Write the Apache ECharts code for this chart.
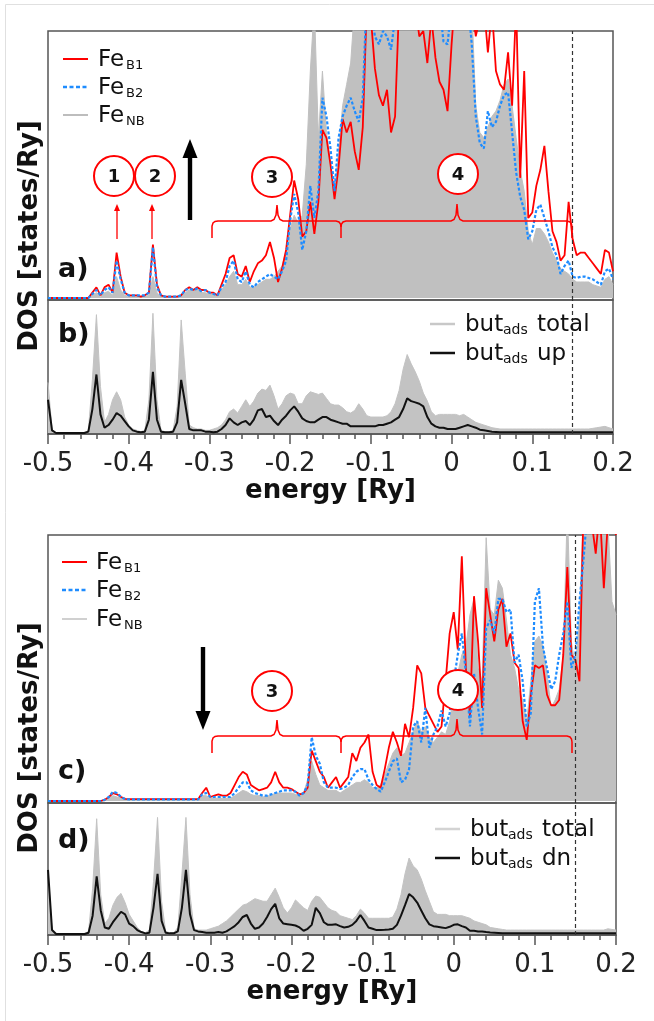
<!DOCTYPE html>
<html><head><meta charset="utf-8">
<script src="https://cdn.jsdelivr.net/npm/echarts@6/dist/echarts.min.js"></script>
<style>html,body{margin:0;padding:0;background:#fff}#c{width:654px;height:1021px}</style>
</head><body><div id="c"></div>
<script>
// ---- energy grid (Ry) ----
const energy = [
-0.5,-0.495,-0.49,-0.485,-0.48,-0.475,-0.47,-0.465,-0.46,-0.455,
-0.45,-0.445,-0.44,-0.435,-0.43,-0.425,-0.42,-0.415,-0.41,-0.405,
-0.4,-0.395,-0.39,-0.385,-0.38,-0.375,-0.37,-0.365,-0.36,-0.355,
-0.35,-0.345,-0.34,-0.335,-0.33,-0.325,-0.32,-0.315,-0.31,-0.305,
-0.3,-0.295,-0.29,-0.285,-0.28,-0.275,-0.27,-0.265,-0.26,-0.255,
-0.25,-0.245,-0.24,-0.235,-0.23,-0.225,-0.22,-0.215,-0.21,-0.205,
-0.2,-0.195,-0.19,-0.185,-0.18,-0.175,-0.17,-0.165,-0.16,-0.155,
-0.15,-0.145,-0.14,-0.135,-0.13,-0.125,-0.12,-0.115,-0.11,-0.105,
-0.1,-0.095,-0.09,-0.085,-0.08,-0.075,-0.07,-0.065,-0.06,-0.055,
-0.05,-0.045,-0.04,-0.035,-0.03,-0.025,-0.02,-0.015,-0.01,-0.005,
0,0.005,0.01,0.015,0.02,0.025,0.03,0.035,0.04,0.045,
0.05,0.055,0.06,0.065,0.07,0.075,0.08,0.085,0.09,0.095,
0.1,0.105,0.11,0.115,0.12,0.125,0.13,0.135,0.14,0.145,
0.15,0.155,0.16,0.165,0.17,0.175,0.18,0.185,0.19,0.195,
0.2];

// ---- spin up: Fe DOS (panel a) ----
const upB1 = [
0,0,0,0,0,0,0,0,0,0,
0,2,4,1,4,5,2,17,8,2,
1,1,1,0.5,1,2,20,5,1,0.5,
0.5,0.5,0.5,1,3,4,3,4,3,3,
2,2,1,5,9,15,16,9,8,12,
6,10,13,14,16,21,15,6,11,18,
31,44,37,23,25,36,24,36,63,60,
50,37,49,67,62,66,55,48,64,110,
105,86,76,72,78,62,68,110,120,115,
108,110,98,100,88,105,90,81,78,70,
95,115,120,118,115,110,98,105,110,92,
108,85,80,78,92,72,110,45,85,30,
32,42,48,57,40,25,21,14,16,36,
22,16,17,17,15,13,11,9,18,17,
10];
const upB2 = [
0,0,0,0,0,0,0,0,0,0,
0,1.5,3,1,3,4,2,14,7,2,
1,1,1,1,1,2,19,4,1,0.5,
0.5,0.5,0.5,1,3,3.5,3,3.5,2.5,3,
2,1.5,1,4,6,12,14,7,6,10,
5,4,6,7,8,9,8,7,10,14,
29,39,32,18,25,42,30,40,75,68,
56,40,60,68,72,75,70,66,75,115,
110,98,95,100,98,93,105,120,115,118,
120,115,110,112,105,110,115,110,96,95,
110,118,120,115,112,95,68,58,56,70,
64,66,72,76,77,62,47,38,33,22,
25,33,35,30,25,19,16,9,12,14,
8,7.5,8,8,7.5,7,6,5,10,11,
7];
const upNB = [
0,0,0,0,0,0,0,0,0,0,
0,1,2,0.5,2,2.5,1,8,3,1,
0.5,0.5,0.5,0.5,0.5,1,8,2,0.5,0.5,
0.5,0.5,0.5,1,2,3,2.5,4,2,2,
1.5,1.5,1,3,5,8,10,5,5,7,
4,4,5,6,7,7,8,10,12,18,
26,31,28,31,50,85,110,60,85,62,
50,40,55,72,80,88,110,120,120,120,
120,120,120,120,120,120,120,120,120,120,
120,120,120,120,120,120,120,120,120,120,
120,120,120,120,120,110,72,62,60,64,
68,70,74,80,82,72,60,48,40,25,
20,26,26,24,21,17,14,11,10,9,
7,6,6,6,6,5,4.5,4,7,8,
5];
// ---- spin up: butadiene (panel b) ----
const upButTotal = [
38,3,0,0,0,0,0,0,0,0,
2,40,89,35,8,14,25,31,25,12,
6,3,2,1,2,25,90,25,2,1,
1,2,20,85,45,6,4,3,3,2,
2,3,4,6,10,16,18,15,20,25,
20,24,30,33,32,36,28,18,22,28,
30,29,22,22,28,31,30,29,30,26,
22,21,21,19,16,15,17,22,18,13,
12,12,12,12,13,16,22,32,48,59,
52,46,39,30,24,16,13,14,14,14,
14,14,13,14,12,10,8,7,6,5,
4,3.5,3,3,3,3,3,3,3,3,
3,3,3,3,3,3,3,3,3,3,
3,3,3,3,3,3.5,4,4.5,5,4,
3];
const upBut = [
25,2,0,0,0,0,0,0,0,0,
1,18,44,14,4,6,10,15,13,9,
5,2,1,0.5,1,10,46,10,1,0.5,
0.5,1,8,40,22,3,2,2,2,1,
1,0.5,1,3,6,11,8,6,8,9,
6,10,17,18,12,13,9,6,10,13,
17,20,16,11,9,8,8,10,12,12,
10,9,8,7,7,5,5,5,5,5,
5,5,6,6,7,8,10,12,18,26,
24,23,22,20,12,7,5,4,4,3,
3,3,4,5,6,5,4,2.5,2,1.5,
1,0.8,0.5,0.5,0.5,0.5,0.5,0.5,0.5,0.5,
0.5,0.5,0.5,0.5,0.5,0.5,0.5,0.5,0.5,0.5,
0.5,0.5,0.5,0.5,0.5,0.5,0.5,0.5,0.5,0.5,
0.5];
// ---- spin down: Fe DOS (panel c) ----
const dnB1 = [
0,0,0,0,0,0,0,0,0,0,
0,0,0,0,0.5,1.5,3,2.5,1.5,0.8,
0.7,0.7,0.7,0.7,0.7,0.7,0.7,0.7,0.7,0.7,
0.7,0.7,0.7,0.7,0.7,0.7,0.7,0.7,3,5,
1.5,2,2.5,2,2,3,6,9,11,10,
6,5,4,4.5,5,7,11,7,5,5,
4.5,3.5,2.5,3,5,19,15,11,9,5,
7,9,5,7,9,18,15,20,22,25,
11,6,5,12,20,26,22,17,29,24,
35,51,48,35,32,29,26,28,45,63,
71,57,92,50,32,77,60,35,80,70,
60,72,76,58,63,52,50,30,23,40,
51,50,51,40,36,36,38,55,88,55,
53,45,110,120,105,93,110,80,105,110,
100];
const dnB2 = [
0,0,0,0,0,0,0,0,0,0,
0,0,0,0,0.5,1.5,3.5,3,1.5,0.7,
0.6,0.6,0.6,0.6,0.6,0.6,0.6,0.6,0.6,0.6,
0.6,0.6,0.6,0.6,0.6,0.6,0.6,0.6,2.5,3,
1.5,1.5,1.5,1.5,1.5,1.5,3,5,7,7,
4,3,2.5,2,2,2.5,3,3.5,4,4,
4,3.5,2,3,6,24,17,14,7,5,
5,5,4.5,5,6,9,11,12,12,8,
6,4.5,3.5,7,11,15,16,7,8,12,
28,30,22,35,20,25,28,34,28,33,
45,55,63,48,28,48,35,25,65,68,
63,76,76,71,72,52,55,45,28,33,
75,80,58,50,42,45,55,63,75,50,
55,75,91,110,115,120,110,105,115,110,
105];
const dnNB = [
0,0,0,0,0,0,0,0,0,0,
0,0,0,0,0,1,2,1.5,1,0.5,
0.5,0.5,0.5,0.5,0.5,0.5,0.5,0.5,0.5,0.5,
0.5,0.5,0.5,0.5,0.5,0.5,0.5,0.5,2,2,
1,1,1,1,1,1,2,3,4,3.5,
2.5,2,2,1.5,2,2,3,3,3,3,
3,2.5,2,3,8,15,10,6,5,4,
4,4,3,4,5,6,7,7,8,7,
5,5,6,10,14,18,20,17,18,22,
26,30,26,28,24,22,24,26,25,30,
40,48,55,58,70,76,50,45,99,72,
70,83,80,68,55,50,42,38,30,45,
60,62,58,48,35,38,42,55,110,60,
50,70,110,120,120,115,110,110,105,75,
70];
// ---- spin down: butadiene (panel d) ----
const dnButTotal = [
49,3,0,0,0,0,0,0,0,0,
2,35,88,30,8,12,22,28,31,24,
15,10,5,2,1,3,40,89,25,2,
1,1,5,45,89,30,4,3,3,3,
4,5,6,8,10,13,16,19,22,23,
25,27,26,25,25,30,35,28,20,16,
20,26,23,20,18,25,29,28,24,20,
18,17,14,13,12,11,14,19,16,12,
12,12,12,12,12,13,19,30,46,58,
52,49,42,33,25,17,15,15,15,14,
14,14,14,13,12,10,9,8,7,5,
4.5,4,3.5,3,3,3,3,3,3,3,
3,3,3,3,3,3,3,3,3,3,
3,3,3,3,3,3,3,3,4,3.5,
3];
const dnBut = [
49,3,0,0,0,0,0,0,0,0,
1,14,44,18,5,4,9,13,17,15,
8,6,3,1.5,0.5,1,20,46,10,1,
0.5,0.5,2,20,49,15,3,2,1.5,1,
1,1,1.5,1,2,4,6,9,13,14.5,
8,4,5,8,13,19,23,12,8,7.5,
7,6.5,5,2.5,4,7,20,16,9,7,
7,7.4,6,5,5.5,7,10,14.5,10,5,
4,3,3,3.2,3.5,4,7,14,22,30.5,
28,24,18,12,7.4,6,5.5,5,4.5,5.5,
7,7.4,6,5,2.5,2.5,2,2,1.5,1.2,
1,0.8,0.6,0.5,0.5,0.5,0.5,0.5,0.5,0.5,
0.5,0.5,0.5,0.5,0.5,0.5,0.5,0.5,0.5,0.5,
0.5,0.5,0.5,0.5,0.5,0.5,0.5,0.5,0.5,0.5,
0.5];
const fermiLevel = 0.15;

// ---------------- chart ----------------
const FONT = 'DejaVu Sans';
const chart = echarts.init(document.getElementById('c'), null, {renderer: 'canvas'});

const gridBoxes = [
  {left: 48, top: 31, width: 565, height: 269},
  {left: 48, top: 300, width: 565, height: 134},
  {left: 48, top: 535, width: 568, height: 268},
  {left: 48, top: 803, width: 568, height: 132}
];
const grid = gridBoxes.map(g => Object.assign({show: true, borderColor: '#555', borderWidth: 1.5,
  backgroundColor: 'rgba(0,0,0,0)', containLabel: false, outerBoundsMode: 'none'}, g));

function xAx(gi, visible) {
  return {
    type: 'value', gridIndex: gi, min: -0.5, max: 0.2, interval: 0.1, show: visible,
    axisLine: {show: true, onZero: false, lineStyle: {color: '#555', width: 1.5}},
    axisTick: {show: true, length: 10, lineStyle: {color: '#555', width: 1.5}},
    minorTick: {show: true, splitNumber: 5, length: 5, lineStyle: {color: '#555', width: 1.5}},
    splitLine: {show: false}, minorSplitLine: {show: false},
    axisLabel: {show: true, margin: 17, fontSize: 26, fontFamily: FONT, color: '#222',
      formatter: v => (Math.abs(v) < 1e-9 ? '0' : v.toFixed(1))},
    name: 'energy [Ry]', nameLocation: 'middle', nameGap: 44,
    nameTextStyle: {fontSize: 26, fontWeight: 'bold', fontFamily: FONT, color: '#111'}
  };
}
const xAxis = [xAx(0, false), xAx(1, true), xAx(2, false), xAx(3, true)];
const yAxis = [0, 1, 2, 3].map(gi => ({type: 'value', gridIndex: gi, min: -0.75, max: 100, show: false}));

const pairs = arr => energy.map((e, i) => [e, arr[i]]);
const fermiMark = {
  symbol: 'none', silent: true, animation: false, label: {show: false},
  lineStyle: {color: '#333', type: [4, 3], width: 1.2},
  data: [{xAxis: fermiLevel}]
};
function areaSeries(gi, name, arr, color) {
  return {type: 'line', name, xAxisIndex: gi, yAxisIndex: gi, data: pairs(arr), symbol: 'none',
    showSymbol: false, clip: true, silent: true, animation: false, z: 1,
    lineStyle: {color: color, width: 1}, areaStyle: {color: color, opacity: 1},
    markLine: fermiMark};
}
function lineSeries(gi, name, arr, color, width, dash, z) {
  return {type: 'line', name, xAxisIndex: gi, yAxisIndex: gi, data: pairs(arr), symbol: 'none',
    showSymbol: false, clip: true, silent: true, animation: false, z: z,
    lineStyle: {color: color, width: width, type: dash || 'solid'}};
}

const series = [
  areaSeries(0, 'Fe_NB up', upNB, '#c0c0c0'),
  lineSeries(0, 'Fe_B1 up', upB1, '#ff0000', 1.8, null, 3),
  lineSeries(0, 'Fe_B2 up', upB2, '#1e8cff', 2.2, [3, 2], 4),
  areaSeries(1, 'but_ads total up', upButTotal, '#c3c3c3'),
  lineSeries(1, 'but_ads up', upBut, '#111111', 2, null, 3),
  areaSeries(2, 'Fe_NB dn', dnNB, '#c0c0c0'),
  lineSeries(2, 'Fe_B1 dn', dnB1, '#ff0000', 1.8, null, 3),
  lineSeries(2, 'Fe_B2 dn', dnB2, '#1e8cff', 2.2, [3, 2], 4),
  areaSeries(3, 'but_ads total dn', dnButTotal, '#c3c3c3'),
  lineSeries(3, 'but_ads dn', dnBut, '#111111', 2, null, 3)
];

// ---------------- annotations (graphic) ----------------
const G = [];
const Z = 100;
function text(x, y, t, font, opts) {
  G.push({type: 'text', x: x, y: y, z: Z + 2, silent: true,
    style: Object.assign({text: t, font: font, fill: '#111', textAlign: 'left',
      verticalAlign: 'middle', textVerticalAlign: 'middle'}, opts || {})});
}
function circleNum(cx, cy, n) {
  G.push({type: 'circle', z: Z + 1, silent: true, shape: {cx: cx, cy: cy, r: 20},
    style: {fill: '#fff', stroke: '#ff0000', lineWidth: 2}});
  text(cx, cy + 1, n, 'bold 18px "DejaVu Sans"', {textAlign: 'center'});
}
function braces(h) {
  const d = 17, u = 16;
  G.push({type: 'polyline', z: Z, silent: true, style: {stroke: '#ff0000', lineWidth: 1.5, fill: null},
    shape: {points: [[212, h + d], [212, h + 5], [213, h + 2], [215, h + 0.5], [218, h], [271, h],
      [274, h - 1.5], [276, h - 6], [277, h - u], [278, h - 6], [280, h - 1.5], [283, h], [336, h],
      [339, h + 1], [340.5, h + 3], [341, h + 6], [341, h + d]]}});
  G.push({type: 'polyline', z: Z, silent: true, style: {stroke: '#ff0000', lineWidth: 1.5, fill: null},
    shape: {points: [[341, h + 6], [341.5, h + 3], [343, h + 1], [346, h], [451, h],
      [454, h - 1.5], [456, h - 6], [457, h - u - 1], [458, h - 6], [460, h - 1.5], [463, h], [567, h],
      [570, h + 1], [571.5, h + 3], [572, h + 6], [572, h + d]]}});
}
function redArrow(x, yBase, yTip) {
  G.push({type: 'line', z: Z, silent: true, shape: {x1: x, y1: yBase, x2: x, y2: yTip + 5},
    style: {stroke: '#ff0000', lineWidth: 1.3}});
  G.push({type: 'polygon', z: Z, silent: true, shape: {points: [[x - 3, yTip + 7], [x, yTip], [x + 3, yTip + 7]]},
    style: {fill: '#ff0000'}});
}
function blackArrow(x, yTail, yTip) {
  const dir = yTip < yTail ? -1 : 1;
  const headBase = yTip - dir * 19;
  G.push({type: 'rect', z: Z, silent: true,
    shape: {x: x - 2.2, y: Math.min(yTail, headBase), width: 4.4, height: Math.abs(headBase - yTail)},
    style: {fill: '#000'}});
  G.push({type: 'polygon', z: Z, silent: true,
    shape: {points: [[x - 7.5, headBase], [x, yTip], [x + 7.5, headBase]]}, style: {fill: '#000'}});
}
function legendFe(x0, xt, rows, colors) {
  rows.forEach((y, k) => {
    const c = colors[k];
    G.push({type: 'line', z: Z, silent: true, shape: {x1: x0, y1: y - 1, x2: x0 + 25, y2: y - 1},
      style: {stroke: c.color, lineWidth: c.width, lineDash: c.dash || null}});
    text(xt, y, 'Fe', '23px "DejaVu Sans"');
    text(xt + 28, y + 5.5, c.sub, '13px "DejaVu Sans"');
  });
}
function legendBut(x0, xt, rows, items) {
  rows.forEach((y, k) => {
    const it = items[k];
    G.push({type: 'line', z: Z, silent: true, shape: {x1: x0, y1: y - 1, x2: x0 + 25, y2: y - 1},
      style: {stroke: it.color, lineWidth: 2.5}});
    text(xt, y, 'but', '23px "DejaVu Sans"');
    text(xt + 38, y + 5, 'ads', '14px "DejaVu Sans"');
    text(xt + 72, y, it.word, '23px "DejaVu Sans"');
  });
}

// image frame
G.push({type: 'polyline', z: Z, silent: true, shape: {points: [[5.5, 1021], [5.5, 4.5], [654, 4.5]]},
  style: {stroke: '#e0e0e0', lineWidth: 1, fill: null}});

// y-axis titles
G.push({type: 'text', x: 30, y: 236, rotation: Math.PI / 2, z: Z, silent: true,
  style: {text: 'DOS [states/Ry]', font: 'bold 26px "DejaVu Sans"', fill: '#111', textAlign: 'center', verticalAlign: 'middle', textVerticalAlign: 'middle'}});
G.push({type: 'text', x: 30, y: 738, rotation: Math.PI / 2, z: Z, silent: true,
  style: {text: 'DOS [states/Ry]', font: 'bold 26px "DejaVu Sans"', fill: '#111', textAlign: 'center', verticalAlign: 'middle', textVerticalAlign: 'middle'}});

// panel letters
text(58, 270, 'a)', 'bold 27px "DejaVu Sans"');
text(58, 335, 'b)', 'bold 27px "DejaVu Sans"');
text(58, 772, 'c)', 'bold 27px "DejaVu Sans"');
text(58, 841, 'd)', 'bold 27px "DejaVu Sans"');

// legends
legendFe(63, 98, [60, 88, 116], [
  {color: '#ff0000', width: 2, sub: 'B1'},
  {color: '#1e8cff', width: 2.5, dash: [4, 2.5], sub: 'B2'},
  {color: '#bdbdbd', width: 2, sub: 'NB'}]);
legendFe(62, 96, [563, 591, 620], [
  {color: '#ff0000', width: 2, sub: 'B1'},
  {color: '#1e8cff', width: 2.5, dash: [4, 2.5], sub: 'B2'},
  {color: '#d0d0d0', width: 2, sub: 'NB'}]);
legendBut(430, 465, [325, 354], [{color: '#c8c8c8', word: 'total'}, {color: '#111', word: 'up'}]);
legendBut(435, 470, [830, 859], [{color: '#d3d3d3', word: 'total'}, {color: '#111', word: 'dn'}]);

// panel a annotations
redArrow(117, 239, 204);
redArrow(152, 239, 204);
circleNum(114, 176, '1');
circleNum(155, 176, '2');
blackArrow(190, 220, 139);
braces(221);
circleNum(272, 177, '3');
circleNum(458, 174, '4');
// panel c annotations
blackArrow(203, 647, 730);
braces(736);
circleNum(272, 691, '3');
circleNum(458, 690, '4');

chart.setOption({
  animation: false,
  backgroundColor: '#ffffff',
  textStyle: {fontFamily: FONT},
  grid: grid,
  xAxis: xAxis,
  yAxis: yAxis,
  series: series,
  graphic: {elements: G}
});
</script></body></html>
